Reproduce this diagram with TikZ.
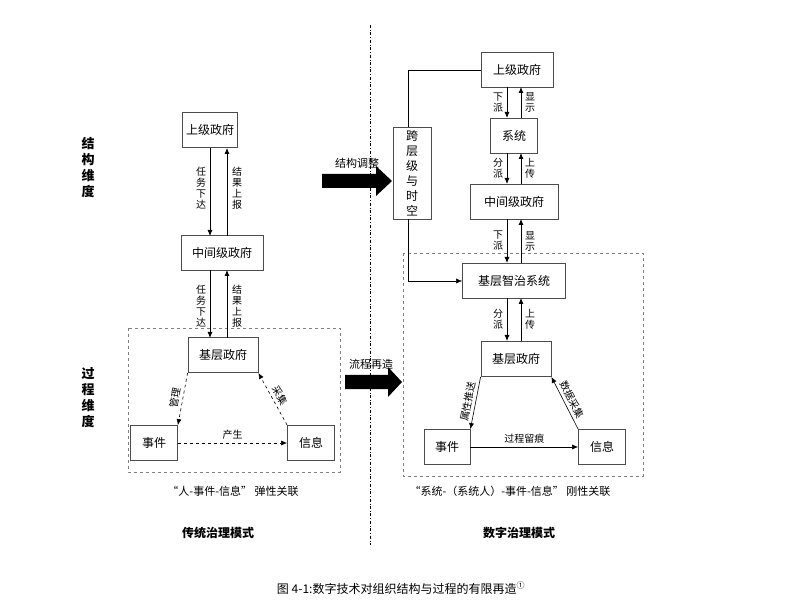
\documentclass[tikz,border=0pt]{standalone}
\usepackage{fontspec}
\setmainfont{Noto Sans CJK SC}
\usetikzlibrary{arrows.meta}
\tikzset{
  box/.style={draw,thick,draw=black!70,minimum height=35pt,font=\fontsize{12}{14}\selectfont},
  vlab/.style={font=\fontsize{10}{11}\selectfont,align=center,inner sep=0pt},
  dlab/.style={font=\fontsize{10}{11}\selectfont,sloped,above,inner sep=3pt},
  arr/.style={-{Latex[length=6pt,width=5pt]},thick},
  darr/.style={arr,dashed,semithick}
}
\newcommand{\bigarr}[4]{% x0, x1 (head base), x2 (tip), y centre
  \fill (#1,#4-7) -- (#2,#4-7) -- (#2,#4-15) -- (#3,#4) -- (#2,#4+15) -- (#2,#4+7) -- (#1,#4+7) -- cycle;}
\begin{document}
\begin{tikzpicture}[x=1pt,y=-1pt]
\useasboundingbox (0,0) rectangle (803,601);
% left column
\draw[dashed,gray] (128,328) rectangle (340,472);
\node[box,minimum width=44pt] (lsup) at (210,130) {上级政府};
\node[box,minimum width=82pt] (lmid) at (222,253) {中间级政府};
\node[box,minimum width=70pt] (lbase) at (223,355) {基层政府};
\node[box,minimum width=47pt] (lev) at (154,443) {事件};
\node[box,minimum width=47pt] (linf) at (311,443) {信息};
\draw[arr] (210,148) -- (210,236);
\draw[arr] (227,236) -- (227,148);
\node[vlab] at (201,188) {任\\务\\下\\达};
\node[vlab] at (237,188) {结\\果\\上\\报};
\draw[arr] (210,270) -- (210,338);
\draw[arr] (227,338) -- (227,270);
\node[vlab] at (201,306) {任\\务\\下\\达};
\node[vlab] at (237,306) {结\\果\\上\\报};
\draw[darr] (lbase.south west) -- node[dlab] {管理} (lev.north east);
\draw[darr] (linf.north west) -- node[dlab] {采集} (lbase.south east);
\draw[darr] (lev) -- node[above,font=\fontsize{10}{11}\selectfont] {产生} (linf);
\node[font=\fontsize{11}{13}\selectfont] (lcap) at (233,491) {“人-事件-信息” 弹性关联};
\node[font=\bfseries\fontsize{12}{14}\selectfont] (ltitle) at (218,533) {传统治理模式};
\node[vlab,font=\bfseries\fontsize{13}{16}\selectfont] (dim1) at (88,168) {结\\构\\维\\度};
\node[vlab,font=\bfseries\fontsize{13}{16}\selectfont] (dim2) at (88,398) {过\\程\\维\\度};
% divider and big arrows
\draw[dash dot,thin] (370,25) -- (370,545);
\bigarr{322}{376}{392}{181}
\node[font=\fontsize{11}{13}\selectfont] at (357,163) {结构调整};
\bigarr{345}{388}{402}{382}
\node[font=\fontsize{11}{13}\selectfont] at (371,364) {流程再造};
% right column
\draw[dashed,gray] (403,253) rectangle (643,476);
\node[box,minimum width=72pt] (rsup) at (517,70) {上级政府};
\node[box,minimum width=47pt] (rsys) at (514,136) {系统};
\node[box,minimum width=88pt] (rmid) at (514,202) {中间级政府};
\node[box,minimum width=103pt] (rsm) at (514,281) {基层智治系统};
\node[box,minimum width=70pt] (rbase) at (516,359) {基层政府};
\node[box,minimum width=46pt] (rev) at (447,447) {事件};
\node[box,minimum width=47pt] (rinf) at (602,447) {信息};
\node[box,minimum width=38pt,minimum height=90pt,align=center,font=\fontsize{12}{15}\selectfont] (cross) at (412,173) {跨\\层\\级\\与\\时\\空};
\coordinate (c1) at (408,70);
\coordinate (c2) at (408,281);
\draw[thin] (rsup.west) -- (c1) -- (cross.north -| c1);
\draw[thin,-{Latex[length=6pt,width=5pt]}] (cross.south -| c2) -- (c2) -- (rsm.west);
\foreach \ya/\yb/\la/\lb/\lc/\ld in {87/118/下/派/显/示,153/184/分/派/上/传,219/263/下/派/显/示,298/341/分/派/上/传}{
  \draw[arr] (507,\ya) -- (507,\yb);
  \draw[arr] (521,\yb) -- (521,\ya);
  \node[vlab] at (498,{(\ya+\yb)/2}) {\la\\\lb};
  \node[vlab] at (530,{(\ya+\yb)/2}) {\lc\\\ld};
}
\draw[arr,semithick] (rbase.south west) -- node[dlab] {属性推送} (rev.north east);
\draw[arr,semithick] (rinf.north west) -- node[dlab] {数据采集} (rbase.south east);
\draw[arr,semithick] (rev) -- node[above,font=\fontsize{10}{11}\selectfont] {过程留痕} (rinf);
\node[font=\fontsize{11}{13}\selectfont] (rcap) at (510,491) {“系统-（系统人）-事件-信息” 刚性关联};
\node[font=\bfseries\fontsize{12}{14}\selectfont] (rtitle) at (519,533) {数字治理模式};
\node[font=\fontsize{12}{14}\selectfont] (fig) at (401,588) {图 4-1:数字技术对组织结构与过程的有限再造\textsuperscript{①}};
\end{tikzpicture}
\end{document}
